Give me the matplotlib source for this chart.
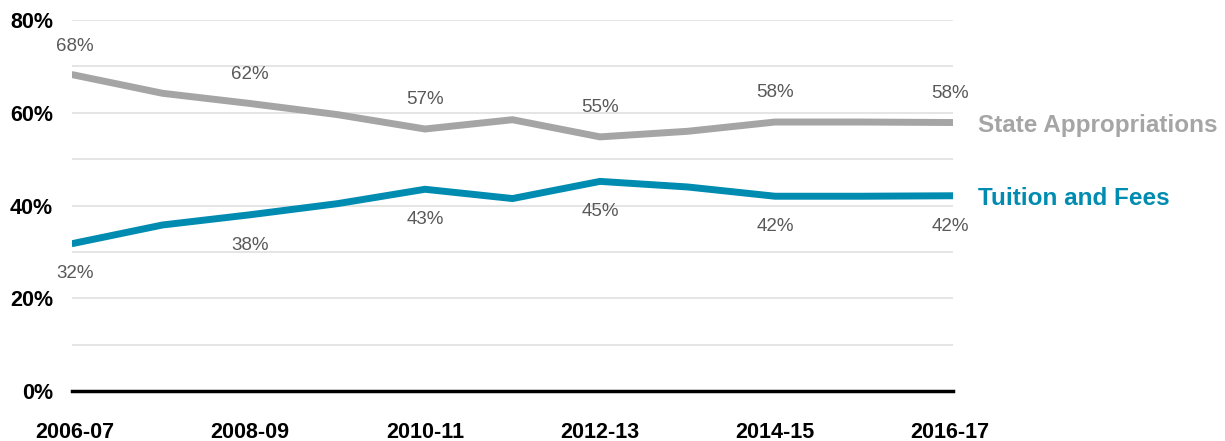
import matplotlib.pyplot as plt

# Data
years = ["2006-07", "2007-08", "2008-09", "2009-10", "2010-11", "2011-12",
         "2012-13", "2013-14", "2014-15", "2015-16", "2016-17"]
state = [68.1, 64.2, 62.0, 59.6, 56.5, 58.5, 54.8, 56.0, 58.0, 58.0, 57.9]
tuition = [31.9, 35.8, 38.0, 40.4, 43.5, 41.5, 45.2, 44.0, 42.0, 42.0, 42.1]
state_labels = ["68%", "", "62%", "", "57%", "", "55%", "", "58%", "", "58%"]
tuition_labels = ["32%", "", "38%", "", "43%", "", "45%", "", "42%", "", "42%"]
y_ticks = [0, 20, 40, 60, 80]

plt.rcParams['font.family'] = ['Liberation Sans', 'DejaVu Sans']

gray = '#A5A5A5'
teal = '#008CB0'

fig = plt.figure(figsize=(12.25, 4.41), dpi=100)
ax = fig.add_axes([0.0591, 0.1134, 0.7185, 0.8412])

x = list(range(len(years)))
ax.plot(x, state, color=gray, lw=5, solid_joinstyle='miter', zorder=3)
ax.plot(x, tuition, color=teal, lw=5, solid_joinstyle='miter', zorder=3)

# Data labels
for i in x:
    if state_labels[i]:
        ax.annotate(state_labels[i], (i, state[i]), xytext=(0, 21), textcoords='offset points',
                    ha='center', va='center', fontsize=13.5, color='#595959')
    if tuition_labels[i]:
        ax.annotate(tuition_labels[i], (i, tuition[i]), xytext=(0, -22), textcoords='offset points',
                    ha='center', va='center', fontsize=13.5, color='#595959')

# Series labels
ax.annotate("State Appropriations", (x[-1], state[-1]), xytext=(20, 0), textcoords='offset points',
            ha='left', va='center_baseline', fontsize=17.5, fontweight='bold', color=gray,
            annotation_clip=False)
ax.annotate("Tuition and Fees", (x[-1], tuition[-1]), xytext=(20, 0), textcoords='offset points',
            ha='left', va='center_baseline', fontsize=17.5, fontweight='bold', color=teal,
            annotation_clip=False)

ax.set_xlim(-0.03, 10.03)
ax.set_ylim(0, 80)
ax.set_yticks(range(0, 81, 10))
ax.set_yticklabels([f"{v}%" if v in y_ticks else "" for v in range(0, 81, 10)])
ax.set_xticks(x[::2])
ax.set_xticklabels(years[::2])
ax.grid(axis='y', color='#E0E0E0', lw=1.2)
ax.set_axisbelow(True)

for s in ['top', 'right', 'left']:
    ax.spines[s].set_visible(False)
ax.spines['bottom'].set_linewidth(2.5)
ax.spines['bottom'].set_color('black')
ax.spines['bottom'].set_zorder(4)

ax.tick_params(axis='both', length=0, labelsize=15.5)
ax.tick_params(axis='y', pad=14)
ax.tick_params(axis='x', pad=22)
for lab in ax.get_xticklabels() + ax.get_yticklabels():
    lab.set_fontweight('bold')

fig.savefig('out.png', dpi=100)
